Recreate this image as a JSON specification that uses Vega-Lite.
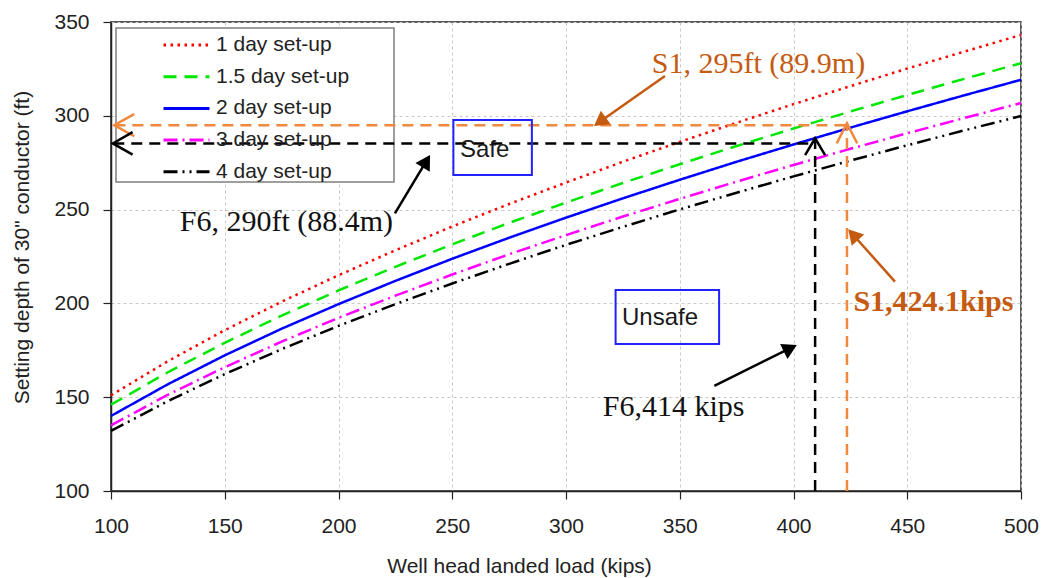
{
  "$schema": "https://vega.github.io/schema/vega-lite/v6.json",
  "width": 910,
  "height": 469,
  "autosize": {"type": "none"},
  "padding": {"left": 111, "top": 22, "right": 35, "bottom": 87},
  "background": "white",
  "datasets": {
    "curves": [
      {"load": 100, "depth": 151, "series": "1 day set-up"},
      {"load": 125, "depth": 169.2, "series": "1 day set-up"},
      {"load": 150, "depth": 185.7, "series": "1 day set-up"},
      {"load": 175, "depth": 200.9, "series": "1 day set-up"},
      {"load": 200, "depth": 215.0, "series": "1 day set-up"},
      {"load": 225, "depth": 228.3, "series": "1 day set-up"},
      {"load": 250, "depth": 241.0, "series": "1 day set-up"},
      {"load": 275, "depth": 253.0, "series": "1 day set-up"},
      {"load": 300, "depth": 264.4, "series": "1 day set-up"},
      {"load": 325, "depth": 275.5, "series": "1 day set-up"},
      {"load": 350, "depth": 286.1, "series": "1 day set-up"},
      {"load": 375, "depth": 296.3, "series": "1 day set-up"},
      {"load": 400, "depth": 306.2, "series": "1 day set-up"},
      {"load": 425, "depth": 315.8, "series": "1 day set-up"},
      {"load": 450, "depth": 325.2, "series": "1 day set-up"},
      {"load": 475, "depth": 334.2, "series": "1 day set-up"},
      {"load": 500, "depth": 343.1, "series": "1 day set-up"},
      {"load": 100, "depth": 146, "series": "1.5 day set-up"},
      {"load": 125, "depth": 163.3, "series": "1.5 day set-up"},
      {"load": 150, "depth": 179.0, "series": "1.5 day set-up"},
      {"load": 175, "depth": 193.5, "series": "1.5 day set-up"},
      {"load": 200, "depth": 206.9, "series": "1.5 day set-up"},
      {"load": 225, "depth": 219.5, "series": "1.5 day set-up"},
      {"load": 250, "depth": 231.5, "series": "1.5 day set-up"},
      {"load": 275, "depth": 242.9, "series": "1.5 day set-up"},
      {"load": 300, "depth": 253.7, "series": "1.5 day set-up"},
      {"load": 325, "depth": 264.2, "series": "1.5 day set-up"},
      {"load": 350, "depth": 274.2, "series": "1.5 day set-up"},
      {"load": 375, "depth": 283.9, "series": "1.5 day set-up"},
      {"load": 400, "depth": 293.2, "series": "1.5 day set-up"},
      {"load": 425, "depth": 302.3, "series": "1.5 day set-up"},
      {"load": 450, "depth": 311.1, "series": "1.5 day set-up"},
      {"load": 475, "depth": 319.7, "series": "1.5 day set-up"},
      {"load": 500, "depth": 328.0, "series": "1.5 day set-up"},
      {"load": 100, "depth": 140, "series": "2 day set-up"},
      {"load": 125, "depth": 156.9, "series": "2 day set-up"},
      {"load": 150, "depth": 172.3, "series": "2 day set-up"},
      {"load": 175, "depth": 186.5, "series": "2 day set-up"},
      {"load": 200, "depth": 199.6, "series": "2 day set-up"},
      {"load": 225, "depth": 212.0, "series": "2 day set-up"},
      {"load": 250, "depth": 223.8, "series": "2 day set-up"},
      {"load": 275, "depth": 235.0, "series": "2 day set-up"},
      {"load": 300, "depth": 245.7, "series": "2 day set-up"},
      {"load": 325, "depth": 256.0, "series": "2 day set-up"},
      {"load": 350, "depth": 265.9, "series": "2 day set-up"},
      {"load": 375, "depth": 275.5, "series": "2 day set-up"},
      {"load": 400, "depth": 284.7, "series": "2 day set-up"},
      {"load": 425, "depth": 293.7, "series": "2 day set-up"},
      {"load": 450, "depth": 302.4, "series": "2 day set-up"},
      {"load": 475, "depth": 310.9, "series": "2 day set-up"},
      {"load": 500, "depth": 319.2, "series": "2 day set-up"},
      {"load": 100, "depth": 135, "series": "3 day set-up"},
      {"load": 125, "depth": 151.3, "series": "3 day set-up"},
      {"load": 150, "depth": 166.0, "series": "3 day set-up"},
      {"load": 175, "depth": 179.6, "series": "3 day set-up"},
      {"load": 200, "depth": 192.3, "series": "3 day set-up"},
      {"load": 225, "depth": 204.1, "series": "3 day set-up"},
      {"load": 250, "depth": 215.4, "series": "3 day set-up"},
      {"load": 275, "depth": 226.2, "series": "3 day set-up"},
      {"load": 300, "depth": 236.4, "series": "3 day set-up"},
      {"load": 325, "depth": 246.3, "series": "3 day set-up"},
      {"load": 350, "depth": 255.7, "series": "3 day set-up"},
      {"load": 375, "depth": 264.9, "series": "3 day set-up"},
      {"load": 400, "depth": 273.8, "series": "3 day set-up"},
      {"load": 425, "depth": 282.4, "series": "3 day set-up"},
      {"load": 450, "depth": 290.7, "series": "3 day set-up"},
      {"load": 475, "depth": 298.8, "series": "3 day set-up"},
      {"load": 500, "depth": 306.8, "series": "3 day set-up"},
      {"load": 100, "depth": 132, "series": "4 day set-up"},
      {"load": 125, "depth": 147.9, "series": "4 day set-up"},
      {"load": 150, "depth": 162.3, "series": "4 day set-up"},
      {"load": 175, "depth": 175.6, "series": "4 day set-up"},
      {"load": 200, "depth": 188.0, "series": "4 day set-up"},
      {"load": 225, "depth": 199.6, "series": "4 day set-up"},
      {"load": 250, "depth": 210.6, "series": "4 day set-up"},
      {"load": 275, "depth": 221.1, "series": "4 day set-up"},
      {"load": 300, "depth": 231.2, "series": "4 day set-up"},
      {"load": 325, "depth": 240.8, "series": "4 day set-up"},
      {"load": 350, "depth": 250.1, "series": "4 day set-up"},
      {"load": 375, "depth": 259.0, "series": "4 day set-up"},
      {"load": 400, "depth": 267.7, "series": "4 day set-up"},
      {"load": 425, "depth": 276.1, "series": "4 day set-up"},
      {"load": 450, "depth": 284.3, "series": "4 day set-up"},
      {"load": 475, "depth": 292.2, "series": "4 day set-up"},
      {"load": 500, "depth": 299.9, "series": "4 day set-up"}
    ],
    "guides": [
      {"id": "oh", "col": "#f0883e", "load": 101.5, "depth": 295},
      {"id": "oh", "col": "#f0883e", "load": 423.5, "depth": 295},
      {"id": "ov", "col": "#f0883e", "load": 423.5, "depth": 100},
      {"id": "ov", "col": "#f0883e", "load": 423.5, "depth": 296},
      {"id": "bh", "col": "#000000", "load": 101, "depth": 285.3},
      {"id": "bh", "col": "#000000", "load": 409.5, "depth": 285.3},
      {"id": "bv", "col": "#000000", "load": 409.5, "depth": 100},
      {"id": "bv", "col": "#000000", "load": 409.5, "depth": 287}
    ],
    "solids": [
      {"id": "ocl", "ord": 1, "col": "#f0883e", "load": 110.2, "depth": 300.9},
      {"id": "ocl", "ord": 2, "col": "#f0883e", "load": 101.4, "depth": 295},
      {"id": "ocl", "ord": 3, "col": "#f0883e", "load": 110.2, "depth": 289.1},
      {"id": "ocu", "ord": 1, "col": "#f0883e", "load": 419.0, "depth": 285.3},
      {"id": "ocu", "ord": 2, "col": "#f0883e", "load": 423.5, "depth": 296},
      {"id": "ocu", "ord": 3, "col": "#f0883e", "load": 428.0, "depth": 285.3},
      {"id": "bcl", "ord": 1, "col": "#000000", "load": 109.5, "depth": 291.3},
      {"id": "bcl", "ord": 2, "col": "#000000", "load": 100.8, "depth": 285.3},
      {"id": "bcl", "ord": 3, "col": "#000000", "load": 109.5, "depth": 279.3},
      {"id": "bcu", "ord": 1, "col": "#000000", "load": 405.1, "depth": 279},
      {"id": "bcu", "ord": 2, "col": "#000000", "load": 409.5, "depth": 288},
      {"id": "bcu", "ord": 3, "col": "#000000", "load": 413.9, "depth": 279},
      {"id": "s1t", "ord": 1, "col": "#c55a11", "load": 343.5, "depth": 321.2},
      {"id": "s1t", "ord": 2, "col": "#c55a11", "load": 314.9, "depth": 296.8},
      {"id": "s1b", "ord": 1, "col": "#c55a11", "load": 444.6, "depth": 211.6},
      {"id": "s1b", "ord": 2, "col": "#c55a11", "load": 426.2, "depth": 236.6},
      {"id": "f6t", "ord": 1, "col": "#000000", "load": 224.8, "depth": 248.0},
      {"id": "f6t", "ord": 2, "col": "#000000", "load": 238.6, "depth": 275.8},
      {"id": "f6b", "ord": 1, "col": "#000000", "load": 365.2, "depth": 156.1},
      {"id": "f6b", "ord": 2, "col": "#000000", "load": 398.6, "depth": 176.1}
    ],
    "heads": [
      {"col": "#c55a11", "load": 314.9, "depth": 296.8, "ang": 234},
      {"col": "#c55a11", "load": 426.2, "depth": 236.6, "ang": 318},
      {"col": "#000000", "load": 238.6, "depth": 275.8, "ang": 31},
      {"col": "#000000", "load": 398.6, "depth": 176.1, "ang": 64}
    ],
    "boxes": [
      {"x1": 250.5, "x2": 285.0, "y1": 268.4, "y2": 297.8},
      {"x1": 321.8, "x2": 367.3, "y1": 178.4, "y2": 207.1}
    ]
  },
  "layer": [
    {
      "data": {"values": [{"x1": 102.2, "x2": 224.4, "y1": 264.7, "y2": 346.8}]},
      "mark": {"type": "rect", "fill": "white", "stroke": "#7f7f7f", "strokeWidth": 1.5},
      "encoding": {
        "x": {"field": "x1", "type": "quantitative", "scale": {"domain": [100, 500], "nice": false, "zero": false},
              "axis": {"values": [100, 150, 200, 250, 300, 350, 400, 450, 500], "title": "Well head landed load (kips)", "titleX": 408, "titleY": 75, "titleBaseline": "middle", "labelPadding": 16, "labelFlush": false}},
        "x2": {"field": "x2"},
        "y": {"field": "y1", "type": "quantitative", "scale": {"domain": [100, 350], "nice": false, "zero": false},
              "axis": {"values": [100, 150, 200, 250, 300, 350], "title": "Setting depth of 30\" conductor (ft)", "titleX": -89, "titleY": 225, "titleBaseline": "middle", "labelPadding": 14, "labelFlush": false}},
        "y2": {"field": "y2"}
      }
    },
    {
      "data": {"name": "curves"},
      "mark": {"type": "line", "strokeWidth": 2.5},
      "encoding": {
        "x": {"field": "load", "type": "quantitative"},
        "y": {"field": "depth", "type": "quantitative"},
        "color": {"field": "series", "type": "nominal",
                  "scale": {"domain": ["1 day set-up", "1.5 day set-up", "2 day set-up", "3 day set-up", "4 day set-up"],
                            "range": ["#ff0000", "#00e600", "#0000ff", "#ff00ff", "#000000"]},
                  "legend": {"title": null, "orient": "none", "legendX": 5, "legendY": 6}},
        "strokeDash": {"field": "series", "type": "nominal",
                       "scale": {"domain": ["1 day set-up", "1.5 day set-up", "2 day set-up", "3 day set-up", "4 day set-up"],
                                 "range": [[2.5, 4.5], [13, 8], [1, 0], [14, 5, 2, 5], [14, 5, 2, 5, 2, 5]]},
                       "legend": {"title": null, "orient": "none", "legendX": 5, "legendY": 6}}
      }
    },
    {
      "data": {"name": "guides"},
      "mark": {"type": "line", "strokeWidth": 2.5, "strokeDash": [11, 7]},
      "encoding": {
        "x": {"field": "load", "type": "quantitative"},
        "y": {"field": "depth", "type": "quantitative"},
        "detail": {"field": "id"},
        "stroke": {"field": "col", "type": "nominal", "scale": null}
      }
    },
    {
      "data": {"name": "solids"},
      "mark": {"type": "line", "strokeWidth": 2.5},
      "encoding": {
        "x": {"field": "load", "type": "quantitative"},
        "y": {"field": "depth", "type": "quantitative"},
        "detail": {"field": "id"},
        "order": {"field": "ord", "type": "quantitative"},
        "stroke": {"field": "col", "type": "nominal", "scale": null}
      }
    },
    {
      "data": {"name": "heads"},
      "mark": {"type": "point", "shape": "triangle-up", "filled": true, "size": 280, "opacity": 1},
      "encoding": {
        "x": {"field": "load", "type": "quantitative"},
        "y": {"field": "depth", "type": "quantitative"},
        "angle": {"field": "ang", "type": "quantitative", "scale": null},
        "fill": {"field": "col", "type": "nominal", "scale": null}
      }
    },
    {
      "data": {"name": "boxes"},
      "mark": {"type": "rect", "filled": false, "color": "#2222ff", "strokeWidth": 2},
      "encoding": {
        "x": {"field": "x1", "type": "quantitative"},
        "x2": {"field": "x2"},
        "y": {"field": "y1", "type": "quantitative"},
        "y2": {"field": "y2"}
      }
    },
    {
      "data": {"values": [
        {"label": "Safe", "load": 253.4, "depth": 281.8},
        {"label": "Unsafe", "load": 324.6, "depth": 192.0}
      ]},
      "mark": {"type": "text", "font": "Liberation Sans", "fontSize": 24, "align": "left", "baseline": "middle", "color": "#1a1a1a"},
      "encoding": {
        "x": {"field": "load", "type": "quantitative"},
        "y": {"field": "depth", "type": "quantitative"},
        "text": {"field": "label"}
      }
    },
    {
      "data": {"values": [
        {"label": "F6, 290ft (88.4m)", "load": 177.1, "depth": 243.4},
        {"label": "F6,414 kips", "load": 347.3, "depth": 144.8}
      ]},
      "mark": {"type": "text", "font": "Liberation Serif", "fontSize": 30, "align": "center", "baseline": "middle", "color": "#111111"},
      "encoding": {
        "x": {"field": "load", "type": "quantitative"},
        "y": {"field": "depth", "type": "quantitative"},
        "text": {"field": "label"}
      }
    },
    {
      "data": {"values": [
        {"label": "S1, 295ft (89.9m)", "load": 384.6, "depth": 327.6}
      ]},
      "mark": {"type": "text", "font": "Liberation Serif", "fontSize": 30, "align": "center", "baseline": "middle", "color": "#c55a11"},
      "encoding": {
        "x": {"field": "load", "type": "quantitative"},
        "y": {"field": "depth", "type": "quantitative"},
        "text": {"field": "label"}
      }
    },
    {
      "data": {"values": [
        {"label": "S1,424.1kips", "load": 461.5, "depth": 200.7}
      ]},
      "mark": {"type": "text", "font": "Liberation Serif", "fontSize": 30, "fontWeight": "bold", "align": "center", "baseline": "middle", "color": "#c55a11"},
      "encoding": {
        "x": {"field": "load", "type": "quantitative"},
        "y": {"field": "depth", "type": "quantitative"},
        "text": {"field": "label"}
      }
    }
  ],
  "config": {
    "view": {"stroke": "#222222", "strokeWidth": 1.5},
    "axis": {
      "labelFont": "Liberation Sans", "labelFontSize": 21, "labelColor": "#222222",
      "titleFont": "Liberation Sans", "titleFontSize": 21, "titleFontWeight": "normal", "titleColor": "#222222",
      "grid": true, "gridColor": "#c8c8c8", "gridDash": [3, 3], "gridWidth": 1,
      "domainColor": "#222222", "domainWidth": 1.5,
      "tickColor": "#222222", "tickSize": 8, "tickWidth": 1.2
    },
    "legend": {
      "symbolType": "M-2.3,0L2.3,0", "symbolSize": 400, "symbolStrokeWidth": 3,
      "symbolOffset": 53.5, "labelOffset": 18,
      "labelFont": "Liberation Sans", "labelFontSize": 21, "labelColor": "#222222",
      "rowPadding": 9.7, "padding": 5.5
    }
  }
}
